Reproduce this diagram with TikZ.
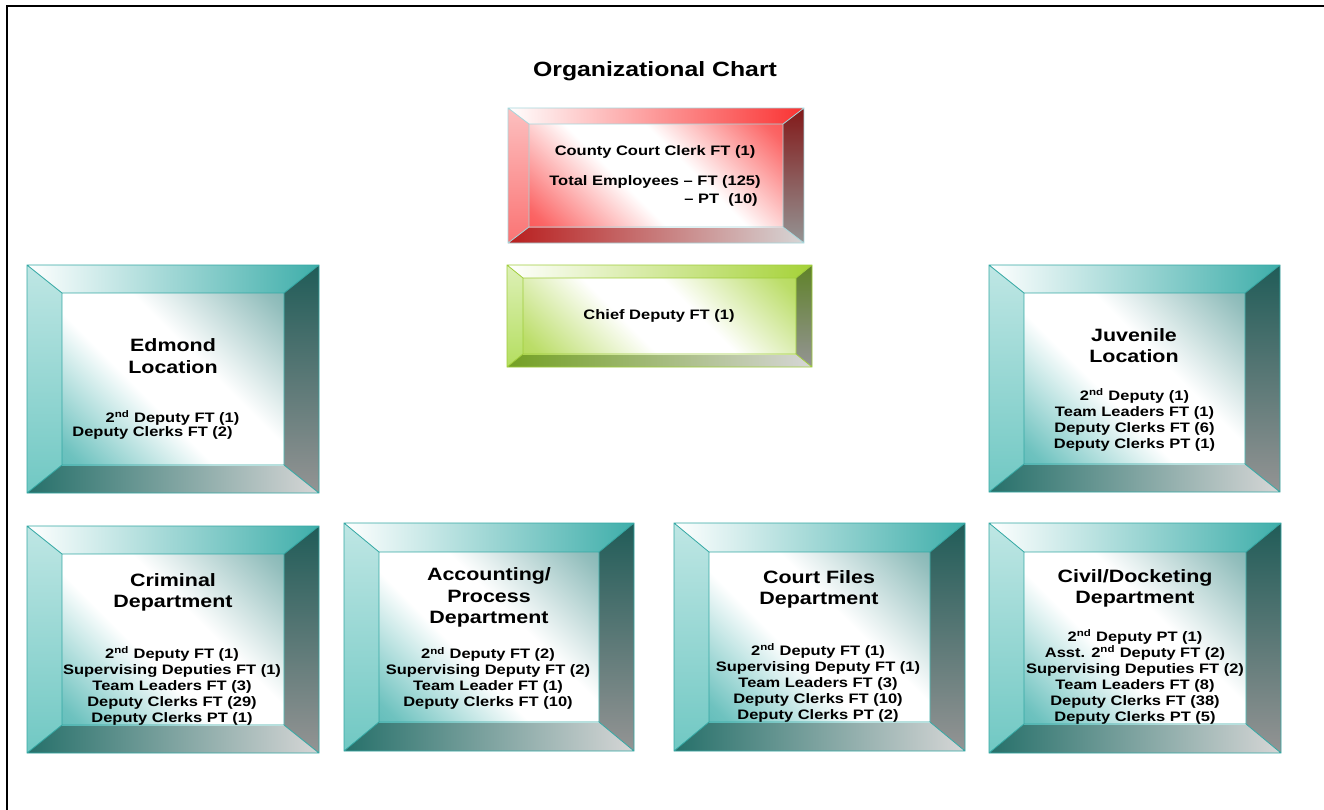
\documentclass[tikz,border=0pt]{standalone}
\usepackage{fontspec}
\setmainfont{Liberation Sans}[FakeStretch=1.2]
\usepackage{tikz}

\definecolor{cyntop}{RGB}{62,174,170}
\definecolor{cynlft}{RGB}{112,200,195}
\definecolor{cyndrk}{RGB}{32,92,88}
\definecolor{cynbot}{RGB}{38,112,106}
\definecolor{cynline}{RGB}{52,168,164}
\definecolor{redtop}{RGB}{250,50,50}
\definecolor{redlft}{RGB}{250,115,115}
\definecolor{reddrk}{RGB}{130,25,25}
\definecolor{redbot}{RGB}{185,30,30}
\definecolor{redline}{RGB}{165,215,220}
\definecolor{grntop}{RGB}{165,210,55}
\definecolor{grnlft}{RGB}{180,222,95}
\definecolor{grndrk}{RGB}{95,130,40}
\definecolor{grnbot}{RGB}{115,160,35}
\definecolor{grnline}{RGB}{160,205,60}
\definecolor{gryrgt}{RGB}{148,148,148}
\definecolor{grybot}{RGB}{214,214,214}

\pgfdeclareverticalshading{facecyn}{100bp}{color(0bp)=(cyntop); color(18bp)=(cyntop!75!white);
  color(42bp)=(white); color(58bp)=(white); color(82bp)=(cyntop!60!gray!65!white); color(100bp)=(cyntop!65!gray)}
\pgfdeclareverticalshading{facered}{100bp}{color(0bp)=(redtop); color(18bp)=(redtop!75!white);
  color(42bp)=(white); color(58bp)=(white); color(82bp)=(redtop!75!white); color(100bp)=(redtop)}
\pgfdeclareverticalshading{facegrn}{100bp}{color(0bp)=(grntop); color(18bp)=(grntop!75!white);
  color(42bp)=(white); color(58bp)=(white); color(82bp)=(grntop!75!white); color(100bp)=(grntop)}

% #1 colour set, (#2,#3) outer top left, (#4,#5) outer bottom right, #6/#7 bevel
\newcommand{\bevelbox}[7]{%
  \shade[left color=white,right color=#1top] (#2,#3) -- (#4,#3) -- ({#4-#6},{#3+#7}) -- ({#2+#6},{#3+#7}) -- cycle;
  \shade[top color=#1lft!45!white,bottom color=#1lft] (#2,#3) -- ({#2+#6},{#3+#7}) -- ({#2+#6},{#5-#7}) -- (#2,#5) -- cycle;
  \shade[top color=#1drk,bottom color=gryrgt] (#4,#3) -- (#4,#5) -- ({#4-#6},{#5-#7}) -- ({#4-#6},{#3+#7}) -- cycle;
  \shade[left color=#1bot,right color=grybot] (#2,#5) -- ({#2+#6},{#5-#7}) -- ({#4-#6},{#5-#7}) -- (#4,#5) -- cycle;
  \shade[shading=face#1,shading angle=-45] ({#2+#6},{#3+#7}) rectangle ({#4-#6},{#5-#7});
  \draw[#1line,line width=0.6pt] (#2,#3) rectangle (#4,#5) ({#2+#6},{#3+#7}) rectangle ({#4-#6},{#5-#7})
    (#2,#3) -- ({#2+#6},{#3+#7}) (#4,#3) -- ({#4-#6},{#3+#7})
    (#2,#5) -- ({#2+#6},{#5-#7}) (#4,#5) -- ({#4-#6},{#5-#7});
}

\begin{document}
\begin{tikzpicture}[x=0.75pt,y=-0.75pt,
  ttl/.style={font=\bfseries\fontsize{15.5}{18}\selectfont,inner sep=0pt},
  hd/.style={font=\bfseries\fontsize{13.4}{16.2}\selectfont,align=center,inner sep=0pt},
  dt/.style={font=\bfseries\fontsize{10.3}{12}\selectfont,align=center,inner sep=0pt}]
\clip (0,0) rectangle (1324,810);
\fill[white] (0,0) rectangle (1324,810);
\draw[line width=1.5pt] (7,6) rectangle (1340,830);

\bevelbox{red}{508}{108}{804}{243}{21}{16}
\bevelbox{grn}{507}{265}{812}{367}{16}{13}
\bevelbox{cyn}{27}{265}{319}{493}{35}{28}
\bevelbox{cyn}{989}{265}{1280}{492}{35}{28}
\bevelbox{cyn}{27}{526}{319}{753}{35}{28}
\bevelbox{cyn}{344}{523}{634}{751}{35}{29}
\bevelbox{cyn}{674}{523}{965}{751}{35}{29}
\bevelbox{cyn}{989}{523}{1281}{753}{35}{29}

\node[ttl] (title) at (655,71) {Organizational Chart};

\node[dt] (clerk) at (655,152) {County Court Clerk FT (1)};
\node[dt] (total) at (655,182) {Total Employees – FT (125)};
\node[dt,anchor=east] (parttime) at (758,200) {– PT\ \ (10)};

\node[dt] (chief) at (659,316) {Chief Deputy FT (1)};

\node[hd] (edmond) at (173,356) {Edmond\\ Location};
\node[dt] (edmondsec) at (172.5,418) {2\textsuperscript{nd} Deputy FT (1)};
\node[dt] (edmondclk) at (152.5,433) {Deputy Clerks FT (2)};

\node[hd] (juvenile) at (1134,345.5) {Juvenile\\ Location};
\node[dt] (juvenilestaff) at (1134.5,420) {2\textsuperscript{nd} Deputy (1)\\ Team Leaders FT (1)\\
  Deputy Clerks FT (6)\\ Deputy Clerks PT (1)};

\node[hd] (criminal) at (173,592.5) {Criminal\\ Department};
\node[dt] (criminalstaff) at (172,686) {2\textsuperscript{nd} Deputy FT (1)\\ Supervising Deputies FT (1)\\
  Team Leaders FT (3)\\ Deputy Clerks FT (29)\\ Deputy Clerks PT (1)};

\node[hd] (accounting) at (489,597.5) {Accounting/\\ Process\\ Department};
\node[dt] (accountingstaff) at (488,678.5) {2\textsuperscript{nd} Deputy FT (2)\\ Supervising Deputy FT (2)\\
  Team Leader FT (1)\\ Deputy Clerks FT (10)};

\node[hd] (courtfiles) at (819,589.5) {Court Files\\ Department};
\node[dt] (courtfilesstaff) at (818,683) {2\textsuperscript{nd} Deputy FT (1)\\ Supervising Deputy FT (1)\\
  Team Leaders FT (3)\\ Deputy Clerks FT (10)\\ Deputy Clerks PT (2)};

\node[hd] (civil) at (1135,588.5) {Civil/Docketing\\ Department};
\node[dt] (civilstaff) at (1135,677) {2\textsuperscript{nd} Deputy PT (1)\\ Asst. 2\textsuperscript{nd} Deputy FT (2)\\
  Supervising Deputies FT (2)\\ Team Leaders FT (8)\\ Deputy Clerks FT (38)\\ Deputy Clerks PT (5)};
\end{tikzpicture}
\end{document}
